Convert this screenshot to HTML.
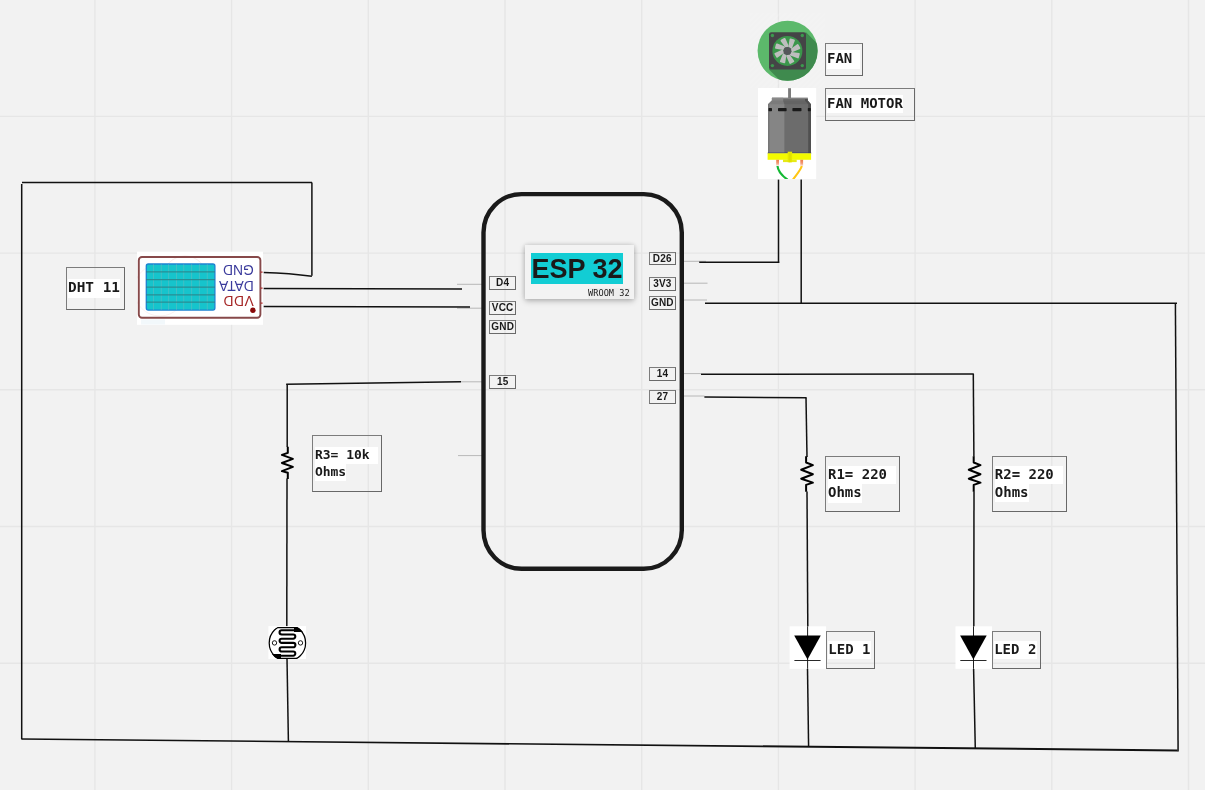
<!DOCTYPE html>
<html lang="en">
<head>
<meta charset="utf-8">
<title>ESP32 circuit diagram</title>
<style>
  html, body { margin: 0; padding: 0; }
  body { width: 1205px; height: 790px; overflow: hidden; background: #f2f2f2; position: relative;
         font-family: "Liberation Sans", sans-serif; }
  #board { position: absolute; left: 0; top: 0; width: 1205px; height: 790px; overflow: hidden; background: #f2f2f2; }
  svg.layer { position: absolute; left: 0; top: 0; }
  .lbl { position: absolute; box-sizing: border-box; border: 1.2px solid #7c7c7c; border-right-color:#686868; border-bottom-color:#686868; color: #1a1a1a;
         font-family: "DejaVu Sans Mono", "Liberation Mono", monospace; font-weight: bold; white-space: pre; }
  .hl { position: absolute; background: #ffffff; display: block; color: #1a1a1a; white-space: pre; overflow: visible;
        font-family: "DejaVu Sans Mono", "Liberation Mono", monospace; font-weight: bold; }
  .pin { position: absolute; box-sizing: border-box; border: 1.2px solid #7c7c7c; border-right-color:#6a6a6a; border-bottom-color:#6a6a6a; color: #1a1a1a;
         font-family: "Liberation Sans", sans-serif; font-weight: bold; font-size: 10px; line-height: 12px;
         text-align: center; width: 27px; height: 14px; letter-spacing: 0.2px; }
  #espcard { position: absolute; left: 525px; top: 245px; width: 109px; height: 54px; background: #f3f3f3;
             box-shadow: 0 2px 6px rgba(0,0,0,0.24), 0 0 5px rgba(0,0,0,0.14); }
  #esptitle { position: absolute; left: 6px; top: 8px; width: 92px; height: 31px; background: #12cdd4; color: #1a1a1a;
              font-family: "Liberation Sans", sans-serif; font-weight: bold; font-size: 27px; line-height: 32.7px;
              text-align: center; white-space: pre; overflow: hidden; }
  #espsub { position: absolute; left: 63px; top: 43px; width: 42px; height: 11px; background: #ededed; color: #1a1a1a;
            font-family: "DejaVu Sans Mono", "Liberation Mono", monospace; font-size: 8.6px; line-height: 11px; letter-spacing: 0.04px; white-space: pre; }
</style>
</head>
<body>
<div id="board">

<!-- GRID -->
<svg class="layer" width="1205" height="790" viewBox="0 0 1205 790">
  <g stroke="#e6e6e6" stroke-width="1.4" fill="none">
    <path d="M94.9 0V790M231.6 0V790M368.3 0V790M505 0V790M641.7 0V790M778.4 0V790M915.1 0V790M1051.8 0V790M1188.5 0V790"/>
    <path d="M0 116.4H1205M0 253.1H1205M0 389.8H1205M0 526.5H1205M0 663.2H1205"/>
  </g>
</svg>

<!-- WIRES -->
<svg class="layer" id="wires" style="will-change:transform" width="1205" height="790" viewBox="0 0 1205 790">
  <!-- pin stubs -->
  <g stroke="#a8a8a8" stroke-width="0.8" fill="none">
    <path d="M457 284.3H482M457 308.2H482M461 381.8H482M458 455.6H482"/>
    <path d="M684 261.3H706M684 283.2H707.5M684 300H707M684 373.6H701M684 396H704.5"/>
  </g>
  <g stroke="#111111" stroke-width="1.5" fill="none" stroke-linecap="butt">
    <!-- outer loop -->
    <path d="M22 182.5H312"/>
    <path d="M21.7 184V739.2"/>
    <path d="M311.9 182.5V275.8"/>
    <path d="M263.7 272.4Q290 273.2 311.9 276.2"/>
    <path d="M263.7 288.4L462 289"/>
    <path d="M263.7 306.4L470 307"/>
    <path d="M21.5 738.2L1177.6 749.4V751.4L21.5 739.7Z" fill="#111111" stroke="none"/>
    <path d="M1175.4 303.4L1178.1 751.6"/>
    <path d="M705 303.2H1177"/>
    <!-- fan motor -->
    <path d="M699.2 262.2H779.3"/>
    <path d="M778.5 179.6V262.8"/>
    <path d="M801.2 179.6V303"/>
    <!-- pin 15 / LDR branch -->
    <path d="M286.2 384.3L461 381.8"/>
    <path d="M287.2 384.3V447"/>
    <path d="M287 478.5L286.8 627"/>
    <path d="M287 658.5L288.4 741"/>
    <!-- pin 14 / R2 / LED2 -->
    <path d="M701 374.2L973.8 374"/>
    <path d="M973.3 374L973.9 456.5"/>
    <path d="M974 491.5L973.8 627"/>
    <path d="M973.6 668.5L975.3 748.6"/>
    <!-- pin 27 / R1 / LED1 -->
    <path d="M704.4 397L806.6 397.7"/>
    <path d="M806 397.7L807 457"/>
    <path d="M807 491.5L807.8 627"/>
    <path d="M807.5 668.5L808.6 747"/>
  </g>
  <!-- resistors -->
  <g stroke="#000000" stroke-width="2" fill="none" stroke-linejoin="round" stroke-linecap="butt">
    <!-- R3 -->
    <path d="M287.8 446.8V452.9L281.9 454.9L292.9 458.9L281.9 463L292.9 466.9L281.9 471.1L287.8 472.8V478.9"/>
    <!-- R1 -->
    <path id="rsym" d="M806.1 456.2V462.5L812.9 465.1L801.2 469.8L812.9 474.2L801.2 478.7L812.9 482.6L806.1 484.9V491.8"/>
    <!-- R2 -->
    <path d="M973.7 456.2V462.5L980.5 465.1L968.8 469.8L980.5 474.2L968.8 478.7L980.5 482.6L973.7 484.9V491.8"/>
  </g>
  <!-- LED 1 -->
  <g id="led1">
    <rect x="789.6" y="626.3" width="36.5" height="42.5" fill="#ffffff"/>
    <path d="M807.6 626.3V668.8" stroke="#111" stroke-width="0.95" fill="none"/>
    <path d="M794.4 660.5H820.6" stroke="#111" stroke-width="0.9" fill="none"/>
    <path d="M794.2 635.4H820.8L807.5 659.6Z" fill="#000000"/>
  </g>
  <!-- LED 2 -->
  <g id="led2">
    <rect x="955.5" y="626.3" width="36.5" height="42.5" fill="#ffffff"/>
    <path d="M973.5 626.3V668.8" stroke="#111" stroke-width="0.95" fill="none"/>
    <path d="M960.3 660.5H986.5" stroke="#111" stroke-width="0.9" fill="none"/>
    <path d="M960.1 635.4H986.7L973.4 659.6Z" fill="#000000"/>
  </g>
  <!-- LDR -->
  <g id="ldr">
    <rect x="268.4" y="626.1" width="37.6" height="32.9" fill="#ffffff"/>
    <clipPath id="ldrclip"><rect x="268" y="627.4" width="39" height="31.1"/></clipPath>
    <circle cx="287.4" cy="642.9" r="18.2" fill="#ffffff" stroke="#000" stroke-width="1.25" clip-path="url(#ldrclip)"/>
    <path d="M277.3 627.6H297.5M277.3 658.3H297.5" stroke="#000" stroke-width="1.25" fill="none"/>
    <!-- wedges -->
    <path d="M294 627.2H297.6Q301 629.2 302.9 632H294Z" fill="#000"/>
    <path d="M281 658.7H277.2Q273.8 656.7 271.9 653.9H281Z" fill="#000"/>
    <!-- serpentine -->
    <path d="M296 630.2H281.7a2.15 2.15 0 0 0 0 4.3H293.2a2.1 2.1 0 0 1 0 4.2H281.7a2.1 2.1 0 0 0 0 4.2H293.2a2.2 2.2 0 0 1 0 4.4H281.7a2.1 2.1 0 0 0 0 4.2H293.2a2.1 2.1 0 0 1 0 4.2H279"
          stroke="#000" stroke-width="2.1" fill="none"/>
    <circle cx="274.5" cy="642.9" r="2.2" fill="#fff" stroke="#000" stroke-width="0.9"/>
    <circle cx="300.5" cy="642.9" r="2.2" fill="#fff" stroke="#000" stroke-width="0.9"/>
  </g>
  <!-- DHT11 -->
  <g id="dht">
    <rect x="137" y="251.7" width="126" height="73.1" fill="#ffffff"/>
    <clipPath id="dhtclip"><rect x="137" y="251.7" width="126" height="73.1"/></clipPath>
    <circle cx="185" cy="278" r="22" fill="none" stroke="#faeaea" stroke-width="1" clip-path="url(#dhtclip)"/>
    <circle cx="160" cy="290" r="26" fill="none" stroke="#fbf0f0" stroke-width="1" clip-path="url(#dhtclip)"/>
    <rect x="141" y="319.5" width="24" height="5" fill="#e9f3f8" opacity="0.6"/>
    <rect x="138.8" y="257" width="121.6" height="60.7" rx="3.2" ry="3.2" fill="none" stroke="#87494a" stroke-width="1.9"/>
    <rect x="146.3" y="264" width="68.6" height="46.1" rx="2" ry="2" fill="#16c4cc" stroke="#1c82d2" stroke-width="1.3"/>
    <g stroke="#d8b0a8" stroke-width="0.6" opacity="0.38">
      <path d="M153.5 264V310M161.3 264V310M168.6 264V310M176.5 264V310M183.7 264V310M191.6 264V310M199.4 264V310M207.3 264V310"/>
    </g>
    <g stroke="#2f8085" stroke-width="1.3" opacity="0.8">
      <path d="M146 271.8H215M146 279.7H215M146 287.1H215M146 294.8H215M146 302.2H215"/>
    </g>
    <g font-family="'Liberation Sans', sans-serif" font-size="13.8" transform="rotate(180 238 285)">
      <text x="222.2" y="304.9" fill="#3b3b9c">GND</text>
      <text x="222.2" y="289.2" fill="#3b3b9c">DATA</text>
      <text x="222.2" y="273.7" fill="#a52626" letter-spacing="0.6">VDD</text>
    </g>
    <circle cx="252.9" cy="310.2" r="2.7" fill="#8a0a0a"/>
    <path d="M260.6 272.2H262.6M260.6 288.2H262.6M260.6 303.2H262.6" stroke="#b03030" stroke-width="1.3"/>
  </g>
  <!-- FAN icon -->
  <g id="fan">
    <defs><pattern id="hatch" width="4" height="4" patternUnits="userSpaceOnUse" patternTransform="rotate(45)"><rect width="2" height="4" fill="#ffffff" fill-opacity="0.13"/></pattern></defs>
    <rect x="750" y="12.5" width="75" height="75.5" fill="url(#hatch)"/>
    <clipPath id="fanclip"><circle cx="787.6" cy="50.8" r="30"/></clipPath>
    <circle cx="787.6" cy="50.8" r="30" fill="#5cb96b"/>
    <path d="M806 32.3L860 86.3L823 123.3L769 69.6Z" fill="#3f8a4e" clip-path="url(#fanclip)"/>
    <rect x="769" y="32.3" width="37" height="37.3" rx="2.2" ry="2.2" fill="#444446"/>
    <circle cx="787.4" cy="50.9" r="15" fill="#3b964b"/>
    <g fill="#bebebe" stroke="#bebebe" stroke-width="1.8" stroke-linejoin="round" transform="translate(787.4 50.9)">
      <path d="M1.5 -4.8L-0.4 -4.3L-3.3 -11.4L0.2 -12.4Z" transform="rotate(-14)"/>
      <path d="M1.5 -4.8L-0.4 -4.3L-3.3 -11.4L0.2 -12.4Z" transform="rotate(31)"/>
      <path d="M1.5 -4.8L-0.4 -4.3L-3.3 -11.4L0.2 -12.4Z" transform="rotate(76)"/>
      <path d="M1.5 -4.8L-0.4 -4.3L-3.3 -11.4L0.2 -12.4Z" transform="rotate(121)"/>
      <path d="M1.5 -4.8L-0.4 -4.3L-3.3 -11.4L0.2 -12.4Z" transform="rotate(166)"/>
      <path d="M1.5 -4.8L-0.4 -4.3L-3.3 -11.4L0.2 -12.4Z" transform="rotate(211)"/>
      <path d="M1.5 -4.8L-0.4 -4.3L-3.3 -11.4L0.2 -12.4Z" transform="rotate(256)"/>
      <path d="M1.5 -4.8L-0.4 -4.3L-3.3 -11.4L0.2 -12.4Z" transform="rotate(301)"/>
    </g>
    <circle cx="787.4" cy="50.9" r="4" fill="#55575a"/>
    <g fill="#3c9a4e">
      <circle cx="772.4" cy="35.5" r="1.7"/><circle cx="802.3" cy="35.5" r="1.7"/>
      <circle cx="772.4" cy="65.6" r="1.7"/><circle cx="802.3" cy="65.6" r="1.7"/>
    </g>
  </g>
  <!-- MOTOR -->
  <g id="motor">
    <rect x="758" y="88" width="58.2" height="91.1" fill="#ffffff"/>
    <rect x="788.1" y="88.2" width="2.9" height="10.5" fill="#7c7c7c"/>
    <path d="M771.9 97.8H807.8V100.6L811 104.2V153.3H768V104.2L771.9 100.6Z" fill="#6c6c6c"/>
    <path d="M771.9 97.8H783.2V101L784.4 104.2V153.3H768V104.2L771.9 100.6Z" fill="#858585"/>
    <path d="M771.9 97.8H807.8V99H771.9Z" fill="#8a8a8a" opacity="0.7"/>
    <path d="M771.9 100.6L768 104.2H811L807.8 100.6Z" fill="#000" opacity="0.07"/>
    <path d="M805 99H807.8V100.6L811 104.2V153.3H808.2V104.2L805 100.8Z" fill="#505050"/>
    <rect x="768" y="104.2" width="1.5" height="49.1" fill="#767676"/>
    <g fill="#1a1a1a">
      <rect x="768.5" y="108.1" width="3.5" height="3.1" rx="0.6"/>
      <rect x="778" y="108.1" width="8.6" height="3.1" rx="0.6"/>
      <rect x="792.4" y="108.1" width="9.1" height="3.1" rx="0.6"/>
      <rect x="807.8" y="108.1" width="3.1" height="3.1" rx="0.6"/>
    </g>
    <rect x="767.7" y="152.6" width="43.5" height="0.9" fill="#3a3f6a"/>
    <rect x="767.6" y="153.3" width="43.5" height="6.5" fill="#f3fa00"/>
    <rect x="783" y="159.6" width="13.7" height="2.5" fill="#e6ea18"/>
    <rect x="787.7" y="151.7" width="4.4" height="10.6" fill="#e6e600"/><rect x="789.5" y="153" width="0.8" height="9.4" fill="#d6d800"/>
    <defs><linearGradient id="tg" x1="0" y1="0" x2="0" y2="1"><stop offset="0" stop-color="#ee7a48"/><stop offset="0.55" stop-color="#f29874"/><stop offset="1" stop-color="#fbe0d4"/></linearGradient></defs>
    <rect x="776.2" y="159.8" width="2.8" height="5.9" fill="url(#tg)"/>
    <rect x="800.3" y="159.8" width="2.8" height="6.1" fill="url(#tg)"/>
    <clipPath id="mclip"><rect x="758" y="88" width="58.2" height="91"/></clipPath>
    <path d="M777.5 166C778 171.5 781.8 175.6 787.6 179.6" stroke="#14b934" stroke-width="2.2" fill="none" clip-path="url(#mclip)"/>
    <path d="M801.8 166C800.2 171 796 175 792.8 179.8" stroke="#ffc614" stroke-width="2.1" fill="none" clip-path="url(#mclip)"/>
  </g>
  <!-- ESP32 outline -->
  <rect x="483.5" y="194.1" width="198.3" height="374.6" rx="38" ry="38.5" fill="none" stroke="#1a1a1a" stroke-width="4.4"/>
</svg>

<!-- LABELS -->
<div id="labels" style="position:absolute;left:0;top:0;width:1205px;height:790px;will-change:transform;">
<div class="lbl" style="left:65.8px;top:267.1px;width:59.2px;height:42.9px"></div>
<span class="hl" style="left:68.0px;top:279.1px;width:52.0px;height:18.9px;line-height:17.7px;font-size:14.4px">DHT 11</span>
<div class="lbl" style="left:825.0px;top:42.9px;width:38.2px;height:32.8px"></div>
<span class="hl" style="left:827.0px;top:50.3px;width:33.3px;height:18.3px;line-height:17.1px;font-size:14px">FAN</span>
<div class="lbl" style="left:825.0px;top:88.1px;width:89.9px;height:32.8px"></div>
<span class="hl" style="left:827.0px;top:95.2px;width:76.2px;height:18.3px;line-height:17.1px;font-size:14px">FAN MOTOR</span>
<div class="lbl" style="left:311.6px;top:435.2px;width:70.7px;height:57.0px"></div>
<span class="hl" style="left:314.9px;top:447.0px;width:63.2px;height:16.8px;line-height:15.6px;font-size:13px">R3= 10k</span>
<span class="hl" style="left:314.9px;top:463.8px;width:31.1px;height:17.0px;line-height:15.8px;font-size:13px">Ohms</span>
<div class="lbl" style="left:824.8px;top:456.0px;width:75.6px;height:56.2px"></div>
<span class="hl" style="left:828.0px;top:465.8px;width:68.1px;height:18.2px;line-height:17.0px;font-size:14px">R1= 220</span>
<span class="hl" style="left:828.0px;top:484.0px;width:34.1px;height:18.5px;line-height:17.3px;font-size:14px">Ohms</span>
<div class="lbl" style="left:991.9px;top:456.0px;width:75.6px;height:56.0px"></div>
<span class="hl" style="left:994.8px;top:465.7px;width:68.3px;height:18.4px;line-height:17.2px;font-size:14px">R2= 220</span>
<span class="hl" style="left:994.8px;top:484.1px;width:34.2px;height:18.3px;line-height:17.1px;font-size:14px">Ohms</span>
<div class="lbl" style="left:826.2px;top:631.3px;width:49.1px;height:37.7px"></div>
<span class="hl" style="left:828.3px;top:641.0px;width:42.8px;height:18.0px;line-height:16.8px;font-size:14px">LED 1</span>
<div class="lbl" style="left:992.1px;top:631.3px;width:49.1px;height:37.7px"></div>
<span class="hl" style="left:994.2px;top:641.0px;width:42.8px;height:18.0px;line-height:16.8px;font-size:14px">LED 2</span>
<div class="pin" style="left:489.0px;top:275.9px;width:27.4px;height:14.2px;line-height:11.8px">D4</div>
<div class="pin" style="left:489.0px;top:300.9px;width:27.4px;height:14.2px;line-height:11.8px">VCC</div>
<div class="pin" style="left:489.0px;top:320.0px;width:27.4px;height:14.1px;line-height:11.7px">GND</div>
<div class="pin" style="left:489.3px;top:375.0px;width:26.7px;height:13.9px;line-height:11.5px">15</div>
<div class="pin" style="left:648.8px;top:251.5px;width:27.1px;height:13.9px;line-height:11.5px">D26</div>
<div class="pin" style="left:648.8px;top:277.0px;width:27.1px;height:14.0px;line-height:11.6px">3V3</div>
<div class="pin" style="left:648.8px;top:295.6px;width:27.1px;height:14.1px;line-height:11.7px">GND</div>
<div class="pin" style="left:648.7px;top:366.8px;width:27.5px;height:14.3px;line-height:11.9px">14</div>
<div class="pin" style="left:648.7px;top:390.1px;width:27.5px;height:13.7px;line-height:11.3px">27</div>
<!-- ESP card -->
<div id="espcard"><div id="esptitle">ESP 32</div><div id="espsub">WROOM 32</div></div>
</div>

</div>
</body>
</html>
